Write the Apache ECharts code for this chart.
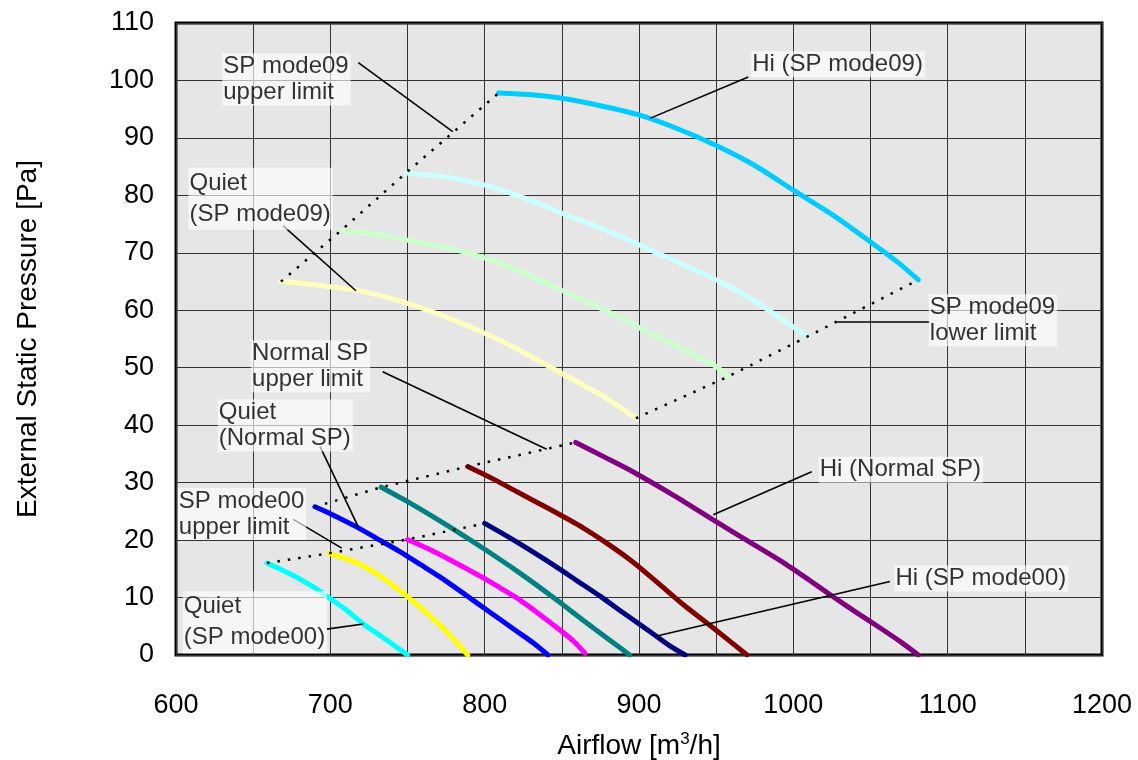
<!DOCTYPE html>
<html><head><meta charset="utf-8">
<script src="https://cdn.jsdelivr.net/npm/echarts@6/dist/echarts.min.js"></script>
<style>html,body{margin:0;padding:0;background:#fff}#c{width:1138px;height:760px}</style>
</head><body><div id="c"></div>
<script>
// ---- Data (airflow m3/h, external static pressure Pa) ----
const xTickLabels = [600, 700, 800, 900, 1000, 1100, 1200];
const yTickLabels = [0, 10, 20, 30, 40, 50, 60, 70, 80, 90, 100, 110];

// SP mode00 / Normal SP curves
const quietSP00   = [[659,16.0],[670,14.6],[681,13.1],[691,11.5],[698,10.2],[710,7.9],[721,5.5],[736,2.7],[750,0]];
const yellowSP00  = [[699,17.7],[713,16.5],[724,15.1],[734,13.4],[745,11.2],[756,8.8],[767,6.2],[778,3.3],[789,0]];
const quietNormal = [[690,25.8],[700,24.6],[717,22.3],[730,20.3],[745,18.0],[758,15.8],[771,13.6],[788,10.4],[800,8.1],[811,6.0],[821,4.1],[832,2.0],[841,0]];
const magentaSP00 = [[750,20.1],[764,18.4],[778,16.5],[789,14.9],[800,13.3],[810,11.7],[821,9.9],[835,7.2],[850,4.1],[858,2.3],[865,0.3]];
const tealNormal  = [[733,29.2],[750,26.7],[767,24.0],[785,21.0],[800,18.4],[821,14.6],[835,11.9],[850,8.9],[864,6.0],[880,2.8],[894,0]];
const hiSP00      = [[800,22.9],[815,20.6],[831,18.0],[845,15.6],[860,12.9],[875,10.2],[890,7.3],[907,4.1],[920,1.6],[930,0]];
const maroonNormal= [[789,32.8],[805,30.7],[821,28.4],[842,25.4],[864,22.1],[880,19.3],[896,16.2],[912,12.6],[929,8.7],[950,4.3],[970,0]];
const hiNormal    = [[859,37.0],[878,34.4],[896,31.9],[923,27.7],[950,23.2],[972,19.6],[994,16.0],[1010,13.1],[1026,10.1],[1042,7.2],[1058,4.4],[1070,2.2],[1081,0]];

// SP mode09 curves
const quietSP09   = [[668,65.0],[690,64.4],[717,63.5],[750,61.2],[775,58.8],[800,56.0],[825,52.7],[850,49.0],[877,45.0],[898,41.2]];
const greenSP09   = [[707,73.9],[730,73.2],[750,72.2],[775,70.9],[800,69.1],[825,66.5],[850,63.5],[870,61.0],[888,58.7],[905,56.3],[930,53.0],[950,50.2],[958,48.5]];
const lcyanSP09   = [[749,83.9],[775,83.2],[800,81.8],[825,79.6],[850,76.9],[878,74.0],[905,70.8],[928,68.0],[950,65.3],[975,61.6],[1000,57.1],[1009,55.4]];
const hiSP09      = [[809,97.8],[830,97.5],[850,96.9],[875,95.6],[900,94.0],[925,91.6],[949,88.8],[975,85.2],[1000,80.9],[1025,76.7],[1050,71.9],[1068,68.3],[1081,65.3]];

// annotation texts and their anchor (top-left) in data units
const annoTexts = ['SP mode09\nupper limit','Hi (SP mode09)','Quiet\n(SP mode09)','Normal SP\nupper limit','Quiet\n(Normal SP)','SP mode00\nupper limit','Quiet\n(SP mode00)','Hi (Normal SP)','Hi (SP mode00)','SP mode09\nlower limit'];
const annoAnchors = [[630.3,104.6],[973.0,105.0],[608.4,84.7],[649.0,54.7],[627.4,44.4],[601.5,29.0],[604.7,11.0],[1016.8,34.4],[1065.9,15.5],[1088.1,62.7]];
const annoWide = [false,false,true,false,false,false,true,false,false,false];
// leader line segments (data units)
const leaders = [
  [[718.1,103.1],[779.3,91.1]],
  [[970.8,100.6],[907.1,93.4]],
  [[669.5,74.7],[716.6,63.4]],
  [[733.9,49.3],[840.2,35.8]],
  [[693.3,36.3],[718.1,22.3]],
  [[676.0,23.6],[707.4,18.6]],
  [[697.6,4.5],[721.4,5.4]],
  [[1011.9,31.9],[948.1,24.4]],
  [[1062.6,12.8],[911.5,3.3]],
  [[1088.1,58.0],[1028.1,58.0]]
];

// ---- Chart ----
const FONT = 'Liberation Sans, Arial, sans-serif';
const first = a => a[0], last = a => a[a.length - 1];
const limitSP09Upper = [quietSP09, greenSP09, lcyanSP09, hiSP09].map(first);
const limitSP09Lower = [quietSP09, greenSP09, lcyanSP09, hiSP09].map(last);
const limitNormalUpper = [quietNormal, tealNormal, maroonNormal, hiNormal].map(first);
const limitSP00Upper = [quietSP00, yellowSP00, magentaSP00, hiSP00].map(first);

function curve(name, data, color) {
  return { name, type: 'line', data, showSymbol: false, smooth: 0.25, z: 3,
    lineStyle: { color, width: 5, cap: 'round' }, silent: true };
}
function dotted(name, data) {
  return { name, type: 'line', data, showSymbol: false, z: 4,
    lineStyle: { color: '#000', width: 2.5, type: [2.5, 8] }, silent: true };
}

const chart = echarts.init(document.getElementById('c'), null, { renderer: 'canvas' });
chart.setOption({
  animation: false,
  backgroundColor: '#fff',
  grid: { left: 176, right: 36, top: 23, bottom: 105, show: true, outerBoundsMode: 'none', containLabel: false,
    backgroundColor: '#e6e6e6', borderColor: '#000', borderWidth: 3 },
  xAxis: {
    type: 'value', min: 600, max: 1200, interval: 50,
    axisLine: { show: false }, axisTick: { show: false },
    splitLine: { show: true, lineStyle: { color: '#333', width: 1 } },
    axisLabel: { fontSize: 27, color: '#000', fontFamily: FONT, margin: 37,
      formatter: v => (xTickLabels.indexOf(v) >= 0 ? String(v) : '') },
    name: 'Airflow [m{sup|3}/h]', nameLocation: 'middle', nameGap: 76,
    nameTextStyle: { fontSize: 28, color: '#000', fontFamily: FONT,
      rich: { sup: { fontSize: 17, verticalAlign: 'top', padding: [0, 0, 14, 0], color: '#000', fontFamily: FONT } } }
  },
  yAxis: {
    type: 'value', min: 0, max: 110, interval: 10,
    axisLine: { show: false }, axisTick: { show: false },
    splitLine: { show: true, lineStyle: { color: '#333', width: 1 } },
    axisLabel: { fontSize: 27, color: '#000', fontFamily: FONT, margin: 22,
      formatter: v => (yTickLabels.indexOf(v) >= 0 ? String(v) : '') },
    name: 'External Static Pressure [Pa]', nameLocation: 'middle', nameGap: 134,
    nameTextStyle: { fontSize: 28, color: '#000', fontFamily: FONT }
  },
  series: [
    curve('Quiet (SP mode00)', quietSP00, '#00ffff'),
    curve('SP mode00 2', yellowSP00, '#ffff00'),
    curve('Quiet (Normal SP)', quietNormal, '#0000ff'),
    curve('SP mode00 3', magentaSP00, '#ff00ff'),
    curve('Normal SP 2', tealNormal, '#008080'),
    curve('Hi (SP mode00)', hiSP00, '#000080'),
    curve('Normal SP 3', maroonNormal, '#800000'),
    curve('Hi (Normal SP)', hiNormal, '#800080'),
    curve('Quiet (SP mode09)', quietSP09, '#ffffc0'),
    curve('SP mode09 2', greenSP09, '#ccffcc'),
    curve('SP mode09 3', lcyanSP09, '#ccffff'),
    curve('Hi (SP mode09)', hiSP09, '#00ccff'),
    dotted('SP mode09 upper limit', limitSP09Upper),
    dotted('SP mode09 lower limit', limitSP09Lower),
    dotted('Normal SP upper limit', limitNormalUpper),
    dotted('SP mode00 upper limit', limitSP00Upper),
    { name: 'leaders', type: 'lines', coordinateSystem: 'cartesian2d', z: 5, silent: true,
      lineStyle: { color: '#000', width: 1.6, opacity: 1 },
      data: leaders.map(c => ({ coords: c })) },
    { name: 'annotations', type: 'scatter', z: 6, silent: true, symbolSize: 1,
      itemStyle: { color: 'rgba(0,0,0,0)' },
      data: annoAnchors.map((p, i) => ({
        value: p,
        label: { show: true, formatter: annoTexts[i], position: [0, 0], align: 'left', verticalAlign: 'top',
          fontSize: 24, fontFamily: FONT, color: '#000',
          lineHeight: annoWide[i] ? 31 : 26,
          backgroundColor: 'rgba(255,255,255,0.8)', padding: [0, 2, 0, 1] }
      }))
    }
  ]
});
</script></body></html>
